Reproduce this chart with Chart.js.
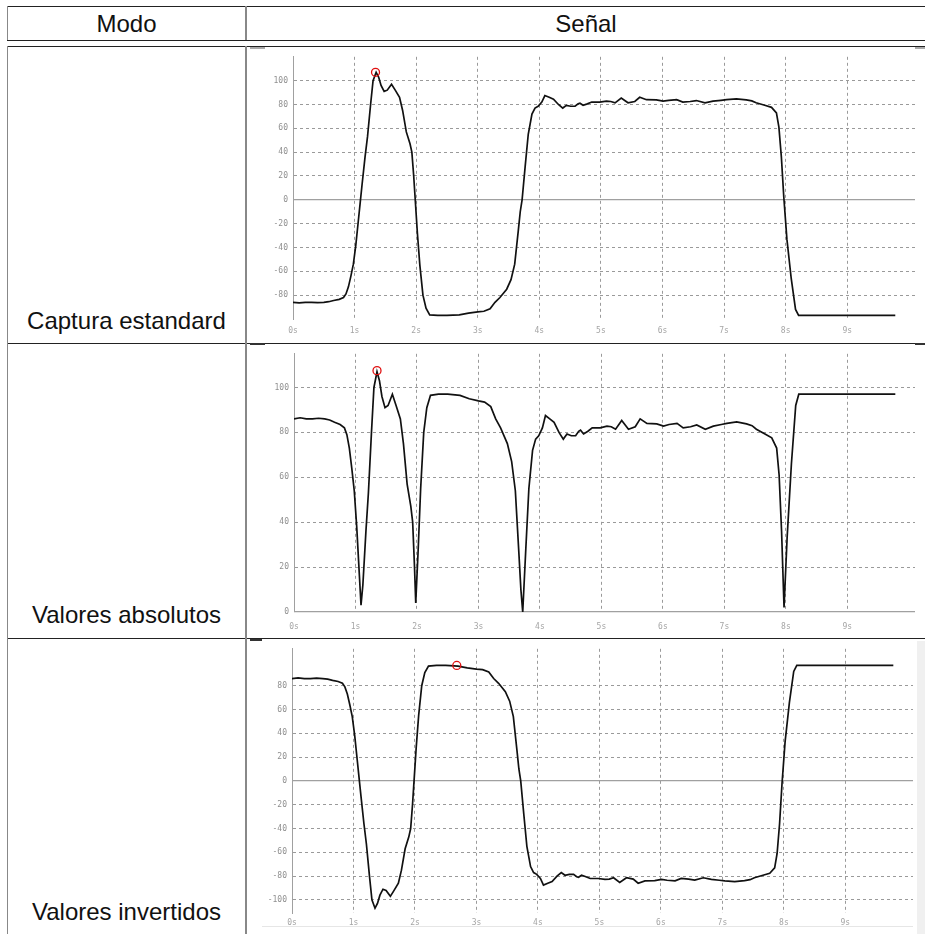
<!DOCTYPE html>
<html lang="es">
<head>
<meta charset="utf-8">
<title>Modos de captura</title>
<script src="https://cdn.jsdelivr.net/npm/chart.js@4.4.0/dist/chart.umd.min.js"></script>
<style>
  html, body { margin: 0; padding: 0; background: #fff; }
  #hoja { position: relative; width: 925px; height: 934px; overflow: hidden;
          font-family: "Liberation Sans", Arial, sans-serif; color: #111; }
  .h { position: absolute; height: 1px; background: #222; }
  .v { position: absolute; width: 1px; background: #888; }
  .cab { position: absolute; top: 7px; height: 33px; line-height: 33px; font-size: 24px; text-align: center; }
  .modo { position: absolute; left: 7px; width: 239px; font-size: 24px; line-height: 24px; text-align: center; }
  canvas { position: absolute; }
</style>
</head>
<body>
<div id="hoja">
  <!-- lineas de la tabla -->
  <div class="h" style="left:7px;top:6px;width:918px"></div>
  <div class="h" style="left:7px;top:40px;width:918px"></div>
  <div class="h" style="left:7px;top:46px;width:918px"></div>
  <div class="h" style="left:7px;top:343px;width:918px"></div>
  <div class="h" style="left:7px;top:638px;width:918px"></div>
  <div class="v" style="left:7px;top:6px;height:34px"></div>
  <div class="v" style="left:7px;top:46px;height:888px"></div>
  <div class="v" style="left:245px;top:6px;height:34px;width:2px"></div>
  <div class="v" style="left:245px;top:46px;height:888px;width:2px"></div>

  <!-- restos del marco de las capturas -->
  <div class="h" style="left:250px;top:47px;width:15px;height:2px;background:#aaa"></div>
  <div class="h" style="left:915px;top:47px;width:10px;height:2px;background:#aaa"></div>
  <div class="h" style="left:250px;top:343px;width:15px;height:2px;background:#333"></div>
  <div class="h" style="left:915px;top:343px;width:10px;height:2px;background:#333"></div>
  <div class="h" style="left:250px;top:639px;width:12px;height:2px;background:#333"></div>
  <div class="h" style="left:917px;top:641px;width:8px;height:293px;background:#f0f0f0"></div>
  <div class="h" style="left:262px;top:926px;width:651px;background:#e6e6e6"></div>

  <div class="cab" style="left:7px;width:239px">Modo</div>
  <div class="cab" style="left:247px;width:678px">Señal</div>

  <div class="modo" style="top:309px">Captura estandard</div>
  <div class="modo" style="top:603px">Valores absolutos</div>
  <div class="modo" style="top:900px">Valores invertidos</div>

  <canvas id="graficoEstandar" width="675" height="296" style="left:250px;top:47px"></canvas>
  <canvas id="graficoAbsoluto" width="675" height="294" style="left:250px;top:344px"></canvas>
  <canvas id="graficoInvertido" width="675" height="295" style="left:250px;top:639px"></canvas>
</div>

<script>
// tiempos de muestreo (s)
const tiempos = [
  0.00, 0.10, 0.20, 0.30, 0.40, 0.50, 0.58, 0.66, 0.75, 0.82,
  0.86, 0.90, 0.94, 0.98, 1.02, 1.06, 1.09, 1.12, 1.17, 1.21,
  1.26, 1.30, 1.35, 1.39, 1.43, 1.48, 1.53, 1.60, 1.66, 1.73,
  1.78, 1.84, 1.90, 1.93, 1.96, 1.98, 2.02, 2.06, 2.11, 2.16,
  2.22, 2.35, 2.50, 2.70, 2.85, 3.00, 3.10, 3.20, 3.28, 3.36,
  3.47, 3.54, 3.60, 3.66, 3.69, 3.72, 3.77, 3.82, 3.88, 3.93,
  3.98, 4.04, 4.09, 4.16, 4.23, 4.31, 4.38, 4.44, 4.51, 4.58,
  4.63, 4.66, 4.71, 4.78, 4.85, 4.98, 5.09, 5.16, 5.23, 5.33,
  5.44, 5.55, 5.63, 5.74, 5.90, 6.01, 6.10, 6.23, 6.33, 6.45,
  6.55, 6.69, 6.82, 6.95, 7.04, 7.20, 7.36, 7.45, 7.52, 7.66,
  7.77, 7.85, 7.89, 7.93, 7.97, 8.02, 8.09, 8.16, 8.21, 8.60,
  9.00, 9.40, 9.78
];

// captura estandard
const senalEstandar = [
  -86, -86.5, -86, -86, -86.3, -86, -85.5, -84.5, -83.5, -82,
  -79, -73, -64, -54, -38, -18, -3, 12, 36, 53,
  80, 100, 107, 103, 96, 91, 92, 97, 92, 86,
  75, 57, 47, 40, 20, 4, -28, -55, -80, -91,
  -96.5, -97, -97, -96.5, -95, -94, -93.5, -91.5, -86, -82,
  -75, -67, -54, -25, -10, 0, 28, 55, 72, 77,
  78.5, 82, 87.5, 86, 84.5, 80, 77, 79.3, 78.5, 78.5,
  80.5, 81, 79.3, 80.5, 82, 82, 82.8, 82.5, 81.4, 85.3,
  81.4, 82.5, 86, 84, 83.8, 82.8, 83.5, 84, 82, 82.5,
  83.3, 81.4, 82.8, 83.5, 84, 84.7, 83.8, 83, 81.4, 79.3,
  77.6, 73, 61, 36, 2, -33, -66, -92, -97, -97,
  -97, -97, -97
];

// valores absolutos
const senalAbsoluta = [
  86, 86.5, 86, 86, 86.3, 86, 85.5, 84.5, 83.5, 82,
  79, 73, 64, 54, 38, 18, 3, 12, 36, 53,
  80, 100, 107, 103, 96, 91, 92, 97, 92, 86,
  75, 57, 47, 40, 20, 4, 28, 55, 80, 91,
  96.5, 97, 97, 96.5, 95, 94, 93.5, 91.5, 86, 82,
  75, 67, 54, 25, 10, 0, 28, 55, 72, 77,
  78.5, 82, 87.5, 86, 84.5, 80, 77, 79.3, 78.5, 78.5,
  80.5, 81, 79.3, 80.5, 82, 82, 82.8, 82.5, 81.4, 85.3,
  81.4, 82.5, 86, 84, 83.8, 82.8, 83.5, 84, 82, 82.5,
  83.3, 81.4, 82.8, 83.5, 84, 84.7, 83.8, 83, 81.4, 79.3,
  77.6, 73, 61, 36, 2, 33, 66, 92, 97, 97,
  97, 97, 97
];

// valores invertidos
const senalInvertida = [
  86, 86.5, 86, 86, 86.3, 86, 85.5, 84.5, 83.5, 82,
  79, 73, 64, 54, 38, 18, 3, -12, -36, -53,
  -80, -100, -107, -103, -96, -91, -92, -97, -92, -86,
  -75, -57, -47, -40, -20, -4, 28, 55, 80, 91,
  96.5, 97, 97, 96.5, 95, 94, 93.5, 91.5, 86, 82,
  75, 67, 54, 25, 10, 0, -28, -55, -72, -77,
  -78.5, -82, -87.5, -86, -84.5, -80, -77, -79.3, -78.5, -78.5,
  -80.5, -81, -79.3, -80.5, -82, -82, -82.8, -82.5, -81.4, -85.3,
  -81.4, -82.5, -86, -84, -83.8, -82.8, -83.5, -84, -82, -82.5,
  -83.3, -81.4, -82.8, -83.5, -84, -84.7, -83.8, -83, -81.4, -79.3,
  -77.6, -73, -61, -36, -2, 33, 66, 92, 97, 97,
  97, 97, 97
];

// maximo marcado con circulo rojo (t, valor) en cada modo
const picoEstandar = [1.34, 107];
const picoAbsoluto = [1.35, 107.5];
const picoInvertido = [2.68, 97];

// marcas de los ejes
const marcasX = [0, 1, 2, 3, 4, 5, 6, 7, 8, 9];
const marcasYEstandar = [-80, -60, -40, -20, 0, 20, 40, 60, 80, 100];
const marcasYAbsoluto = [0, 20, 40, 60, 80, 100];
const marcasYInvertido = [-100, -80, -60, -40, -20, 0, 20, 40, 60, 80];

const fuenteEjes = { family: "'DejaVu Sans Mono', monospace", size: 8 };

// crea una grafica de osciloscopio
function crearGrafico(id, valores, pico, marcasY, cfg) {
    const puntos = tiempos.map((t, i) => ({ x: t, y: valores[i] }));
    return new Chart(document.getElementById(id), {
        type: 'line',
        data: {
            datasets: [
                {
                    data: [{ x: pico[0], y: pico[1] }],
                    showLine: false,
                    pointRadius: 4,
                    pointBorderWidth: 1.3,
                    pointBorderColor: '#e01010',
                    pointBackgroundColor: 'rgba(0,0,0,0)'
                },
                {
                    data: puntos,
                    borderColor: '#111',
                    borderWidth: 1.7,
                    pointRadius: 0,
                    tension: 0,
                    fill: false
                }
            ]
        },
        options: {
            responsive: false,
            animation: false,
            events: [],
            layout: { padding: { left: 0, top: cfg.arriba, right: cfg.derecha, bottom: 0 } },
            plugins: { legend: { display: false }, tooltip: { enabled: false } },
            scales: {
                x: {
                    type: 'linear',
                    min: 0,
                    max: 10.1,
                    afterBuildTicks: escala => { escala.ticks = marcasX.map(v => ({ value: v })); },
                    afterFit: escala => { escala.height = cfg.altoX; },
                    grid: {
                        drawTicks: false,
                        tickLength: 0,
                        color: c => (c.tick && c.tick.value === 0) ? 'rgba(0,0,0,0)' : '#9a9a9a',
                        lineWidth: 1
                    },
                    border: { display: false, dash: [3, 3] },
                    ticks: {
                        autoSkip: false,
                        maxRotation: 0,
                        padding: cfg.sepX,
                        color: '#a5a5a5',
                        font: fuenteEjes,
                        callback: v => v + 's'
                    }
                },
                y: {
                    min: cfg.min,
                    max: cfg.max,
                    afterBuildTicks: escala => { escala.ticks = marcasY.map(v => ({ value: v })); },
                    afterFit: escala => { escala.width = cfg.anchoY; },
                    grid: {
                        drawTicks: false,
                        tickLength: 0,
                        color: c => (c.tick && c.tick.value === 0) ? '#a0a0a0' : '#9a9a9a',
                        lineWidth: c => (c.tick && c.tick.value === 0) ? 1.3 : 1
                    },
                    border: {
                        display: true,
                        color: '#a0a0a0',
                        width: 1,
                        dash: c => (c.tick && c.tick.value === 0) ? [] : [3, 3]
                    },
                    ticks: {
                        padding: 5,
                        color: '#8f8f8f',
                        font: fuenteEjes,
                        callback: v => String(v)
                    }
                }
            }
        }
    });
}

crearGrafico('graficoEstandar', senalEstandar, picoEstandar, marcasYEstandar,
    { min: -100, max: 120, arriba: 2, derecha: 10, anchoY: 43, altoX: 24, sepX: 7 });
crearGrafico('graficoAbsoluto', senalAbsoluta, picoAbsoluto, marcasYAbsoluto,
    { min: 0, max: 115, arriba: 1, derecha: 10, anchoY: 44, altoX: 26, sepX: 10 });
crearGrafico('graficoInvertido', senalInvertida, picoInvertido, marcasYInvertido,
    { min: -111, max: 111, arriba: 3, derecha: 12, anchoY: 42, altoX: 21, sepX: 5 });
</script>
</body>
</html>
